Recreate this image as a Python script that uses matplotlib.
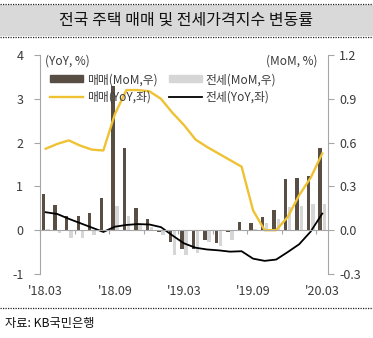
import numpy as np
import matplotlib
matplotlib.use('Agg')
import matplotlib.pyplot as plt
from matplotlib.lines import Line2D
from matplotlib.patches import Patch, Rectangle

plt.rcParams['font.family'] = ['Noto Sans CJK KR', 'DejaVu Sans']

# monthly data, 2018.03 ~ 2020.03
months = ["'18.03", "'18.04", "'18.05", "'18.06", "'18.07", "'18.08", "'18.09",
          "'18.10", "'18.11", "'18.12", "'19.01", "'19.02", "'19.03", "'19.04",
          "'19.05", "'19.06", "'19.07", "'19.08", "'19.09", "'19.10", "'19.11",
          "'19.12", "'20.01", "'20.02", "'20.03"]
sale_mom = [0.25, 0.17, 0.10, 0.10, 0.12, 0.22, 0.99, 0.56, 0.155, 0.08,
            -0.015, -0.08, -0.13, -0.13, -0.065, -0.09, -0.01, 0.057, 0.05,
            0.09, 0.14, 0.35, 0.355, 0.373, 0.56]
rent_mom = [0.005, -0.02, -0.055, -0.055, -0.03, -0.005, 0.165, 0.10, 0.04, 0.02,
            -0.03, -0.17, -0.17, -0.155, -0.08, -0.11, -0.065, 0.0, 0.01,
            0.05, 0.075, 0.16, 0.165, 0.18, 0.18]
sale_yoy = [1.86, 1.97, 2.05, 1.93, 1.84, 1.82, 2.65, 3.2, 3.2, 3.17,
            3.0, 2.68, 2.4, 2.07, 1.9, 1.75, 1.6, 1.45, 0.45, 0.0, 0.0,
            0.3, 0.8, 1.2, 1.75]
rent_yoy = [0.41, 0.37, 0.26, 0.16, 0.06, -0.04, 0.08, 0.12, 0.14, 0.13,
            0.07, -0.12, -0.3, -0.4, -0.44, -0.46, -0.49, -0.48, -0.65, -0.7,
            -0.67, -0.5, -0.32, -0.03, 0.38]
label_idx = [0, 6, 12, 18, 24]

dark = '#584e44'
light = '#d6d6d6'
yellow = '#eec232'
gray = '#a6a6a6'
txt = '#3a3a3a'

W, H = 373, 338
fig = plt.figure(figsize=(W / 100, H / 100), dpi=100)

# title banner
fig.patches.append(Rectangle((0, 1 - 36 / H), 1, 31 / H, transform=fig.transFigure,
                             facecolor='#d9d9d9', edgecolor='none'))
for yy in (4, 37, 308):
    fig.add_artist(Line2D([0, 1], [1 - yy / H] * 2, transform=fig.transFigure,
                          color='#222222', lw=0.9, linestyle=(0, (1, 1))))
fig.text(0.5, 1 - 20 / H, '전국 주택 매매 및 전세가격지수 변동률', ha='center', va='center',
         fontsize=11.5, color='#111111')
fig.text(5 / W, 1 - 324 / H, '자료: KB국민은행', ha='left', va='center',
         fontsize=8.8, color='#111111')

ax = fig.add_axes([40 / W, 1 - 274 / H, 288 / W, 219 / H])
ax2 = ax.twinx()
ax.set_zorder(ax2.get_zorder() + 1)
ax.patch.set_visible(False)

x = np.arange(len(months))
ax2.bar(x - 0.18, sale_mom, width=0.3, color=dark, zorder=2)
ax2.bar(x + 0.18, rent_mom, width=0.3, color=light, zorder=1)
ax.plot(x, sale_yoy, color=yellow, lw=1.7, solid_joinstyle='round')
ax.plot(x, rent_yoy, color='black', lw=1.3, solid_joinstyle='round')

ax.set_xlim(-0.5, len(months) - 0.5)
ax.set_ylim(-1, 4)
ax2.set_ylim(-0.3, 1.2)
ax.set_yticks(range(-1, 5))
ax.set_yticklabels([str(v) for v in range(-1, 5)])
r_ticks = [-0.3, 0.0, 0.3, 0.6, 0.9, 1.2]
ax2.set_yticks(r_ticks)
ax2.set_yticklabels(['%.1f' % v for v in r_ticks])

# category axis drawn on the zero line
ax.set_xticks(np.arange(-0.5, len(months), 3))
ax.set_xticklabels([])
ax.spines['bottom'].set_position(('data', 0))
for a in (ax, ax2):
    for s in ('top', 'bottom', 'left', 'right'):
        a.spines[s].set_color(gray)
        a.spines[s].set_linewidth(0.8)
    a.spines['top'].set_visible(False)
ax2.spines['bottom'].set_visible(False)
ax.spines['right'].set_visible(False)
ax2.spines['left'].set_visible(False)
ax.tick_params(axis='x', direction='out', length=3, color=gray, width=0.8)
ax.tick_params(axis='y', direction='out', length=4, color=gray, width=0.8,
               labelsize=9, labelcolor=txt, pad=8)
ax2.tick_params(axis='y', direction='out', length=4, color=gray, width=0.8,
                labelsize=9, labelcolor=txt, pad=4)

for i in label_idx:
    ax.text(x[i], -0.08, months[i], transform=ax.get_xaxis_transform(),
            ha='center', va='center', fontsize=9, color=txt)

ax.text(5 / 288, 1.0, '(YoY, %)', transform=ax.transAxes, ha='left', va='top',
        fontsize=8.5, color=txt)
ax.text(1 - 10 / 288, 1.0, '(MoM, %)', transform=ax.transAxes, ha='right', va='top',
        fontsize=8.5, color=txt)

handles = [Patch(color=dark), Line2D([], [], color=yellow, lw=1.7),
           Patch(color=light), Line2D([], [], color='black', lw=1.3)]
names = ['매매(MoM,우)', '매매(YoY,좌)', '전세(MoM,우)', '전세(YoY,좌)']
ax.legend(handles, names, ncol=2, frameon=False, fontsize=8.5, loc='upper left',
          bbox_to_anchor=(0.01, 0.95), handlelength=2.8, handleheight=0.5,
          handletextpad=0.3, columnspacing=1.0, labelspacing=0.4, borderaxespad=0.2,
          labelcolor=txt)

fig.savefig('out.png', dpi=100)
